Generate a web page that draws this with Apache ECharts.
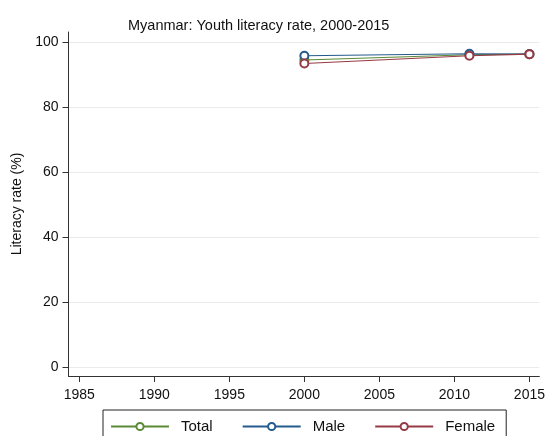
<!DOCTYPE html>
<html>
<head>
<meta charset="utf-8">
<script src="https://cdn.jsdelivr.net/npm/echarts@6/dist/echarts.min.js"></script>
<style>html,body{margin:0;padding:0;background:#fff}#c{width:548px;height:436px}</style>
</head>
<body>
<div id="c"></div>
<script>
var years = [2000, 2011, 2015];
var total = [94.5, 96.1, 96.3];
var male = [95.8, 96.4, 96.3];
var female = [93.4, 95.8, 96.3];
var xTicks = [1985, 1990, 1995, 2000, 2005, 2010, 2015];
var yTicks = [0, 20, 40, 60, 80, 100];
var seriesNames = ['Total', 'Male', 'Female'];
var colors = ['#5a8a36', '#245b8c', '#973a44'];

function pairs(xs, ys) { return xs.map(function (x, i) { return [x, ys[i]]; }); }

var chart = echarts.init(document.getElementById('c'), null, {renderer: 'canvas'});
var font = 'Liberation Sans, Arial, sans-serif';
var dataSets = [total, male, female];
chart.setOption({
  animation: false,
  backgroundColor: '#fff',
  color: colors,
  title: {
    text: 'Myanmar: Youth literacy rate, 2000-2015',
    left: 123, top: 13,
    textStyle: {fontFamily: font, fontSize: 14.5, fontWeight: 'normal', color: '#111'}
  },
  grid: {left: 68.5, right: 6, top: 32, bottom: 60, containLabel: false},
  legend: {
    left: 103, top: 410,
    orient: 'horizontal',
    borderColor: '#222', borderWidth: 1,
    padding: [9, 11, 9, 7],
    itemWidth: 58, itemHeight: 9, itemGap: 29,
    data: seriesNames,
    textStyle: {fontFamily: font, fontSize: 15, color: '#111', padding: [0, 0, 0, 7]}
  },
  xAxis: {
    type: 'value', min: 1984.28, max: 2015.66,
    axisLine: {show: true, onZero: false, lineStyle: {color: '#333', width: 1}},
    axisTick: {show: true, length: 6, lineStyle: {color: '#333'}, customValues: xTicks},
    axisLabel: {fontFamily: font, fontSize: 14, color: '#111', margin: 12, customValues: xTicks, formatter: function (v) { return String(v); }},
    splitLine: {show: false}
  },
  yAxis: {
    type: 'value', min: -2.6, max: 103.1,
    name: 'Literacy rate (%)', nameLocation: 'middle', nameGap: 41,
    nameTextStyle: {fontFamily: font, fontSize: 14, color: '#111'},
    axisLine: {show: true, onZero: false, lineStyle: {color: '#333', width: 1}},
    axisTick: {show: true, length: 6, lineStyle: {color: '#333'}, customValues: yTicks},
    axisLabel: {fontFamily: font, fontSize: 14, color: '#111', margin: 10, customValues: yTicks},
    splitLine: {show: true, lineStyle: {color: '#ebebeb', width: 1}}
  },
  series: seriesNames.map(function (n, i) {
    return {
      name: n, type: 'line',
      data: pairs(years, dataSets[i]),
      symbol: 'emptyCircle', symbolSize: 8,
      lineStyle: {width: 1.1},
      itemStyle: {borderWidth: 1.3},
      z: 2 + i
    };
  })
});
</script>
</body>
</html>
